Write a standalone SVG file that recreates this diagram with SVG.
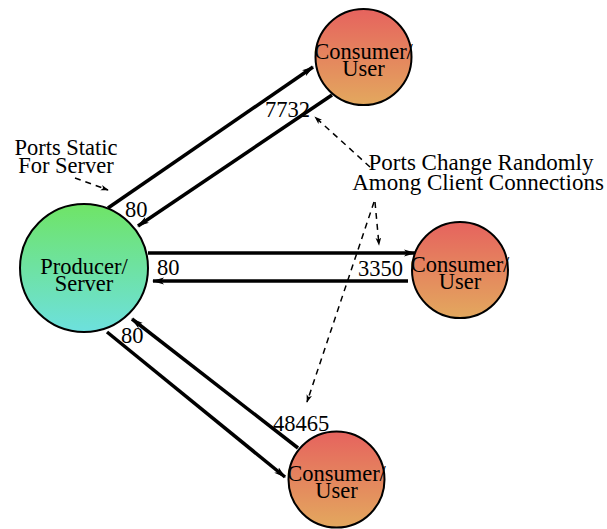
<svg xmlns="http://www.w3.org/2000/svg" width="607" height="529" viewBox="0 0 607 529">
<defs>
<linearGradient id="gp" x1="0" y1="0" x2="0" y2="1"><stop offset="0" stop-color="#6fe466"/><stop offset="1" stop-color="#6de0de"/></linearGradient>
<linearGradient id="gc" x1="0" y1="0" x2="0" y2="1"><stop offset="0" stop-color="#e6635e"/><stop offset="1" stop-color="#e3a85e"/></linearGradient>
<marker id="ah" viewBox="0 0 12 8" refX="11" refY="4" markerWidth="12" markerHeight="8" markerUnits="userSpaceOnUse" orient="auto"><path d="M0,0.5 L12,4 L0,7.5 L3,4 Z" fill="#000"/></marker>
<marker id="ad" viewBox="0 0 10 8" refX="9" refY="4" markerWidth="8" markerHeight="7" markerUnits="userSpaceOnUse" orient="auto"><path d="M0,0.5 L10,4 L0,7.5 L2.5,4 Z" fill="#000"/></marker>
</defs>
<style>
.c{text-anchor:middle}
.node{stroke:#000;stroke-width:2}
.e{stroke:#000;stroke-width:3.5;fill:none;marker-end:url(#ah)}
.d{stroke:#000;stroke-width:1.5;stroke-dasharray:6,5;fill:none;marker-end:url(#ad)}
</style>
<g id="connectors">
<line class="e" x1="108" y1="208" x2="313" y2="67"/>
<line class="e" x1="332" y1="95" x2="138" y2="226"/>
<line class="e" x1="148" y1="253" x2="415" y2="253"/>
<line class="e" x1="408" y1="281" x2="153" y2="281"/>
<line class="e" x1="107" y1="332" x2="285" y2="477"/>
<line class="e" x1="298" y1="448" x2="132" y2="319"/>
<line class="d" x1="75" y1="178" x2="108" y2="190"/>
<line class="d" x1="370" y1="167" x2="315" y2="117"/>
<line class="d" x1="375" y1="202" x2="379" y2="245"/>
<line class="d" x1="374" y1="202" x2="307" y2="402"/>
</g>
<g font-family="Liberation Serif, Times New Roman, serif" font-size="22.5" fill="#000">
<g id="producer"><circle class="node" cx="84" cy="268" r="64" fill="url(#gp)"/><text class="c" x="84" y="274">Producer/</text><text class="c" x="84" y="291">Server</text></g>
<g id="consumer1"><circle class="node" cx="363.5" cy="57" r="48" fill="url(#gc)"/><text class="c" x="363.5" y="59">Consumer/</text><text class="c" x="363.5" y="76">User</text></g>
<g id="consumer2"><circle class="node" cx="460" cy="270" r="48" fill="url(#gc)"/><text class="c" x="460" y="272">Consumer/</text><text class="c" x="460" y="289">User</text></g>
<g id="consumer3"><circle class="node" cx="336.5" cy="479.5" r="48" fill="url(#gc)"/><text class="c" x="336.5" y="481">Consumer/</text><text class="c" x="336.5" y="498">User</text></g>
<g id="labels">
<text class="c" x="66" y="155">Ports Static</text>
<text class="c" x="66" y="173">For Server</text>
<text class="c" x="481" y="170" font-size="23">Ports Change Randomly</text>
<text class="c" x="478" y="190" font-size="23">Among Client Connections</text>
<text x="125" y="217">80</text>
<text x="157" y="275">80</text>
<text x="121" y="343">80</text>
<text x="265" y="117">7732</text>
<text x="358" y="276">3350</text>
<text x="273" y="431">48465</text>
</g>
</g>
</svg>
